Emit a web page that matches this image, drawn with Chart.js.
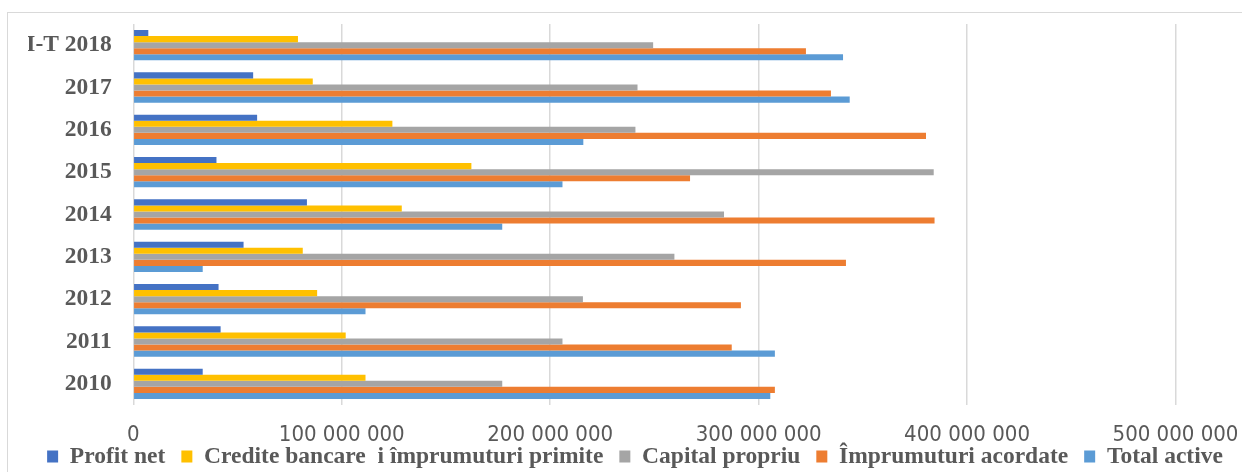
<!DOCTYPE html>
<html>
<head>
<meta charset="utf-8">
<style>
  html, body { margin: 0; padding: 0; width: 1242px; height: 472px; overflow: hidden; background: #fff; }
  #frame { position: absolute; left: 7px; top: 12px; width: 1400px; height: 600px; border: 1px solid #d9d9d9; box-sizing: border-box; }
  #wrap { position: absolute; left: 0; top: 0; width: 1242px; height: 472px; }
</style>
<script src="https://cdn.jsdelivr.net/npm/chart.js@4.4.1/dist/chart.umd.min.js"></script>
</head>
<body>
<div id="frame"></div>
<div id="wrap"><canvas id="c" width="1242" height="472"></canvas></div>
<script>
const categories = ['I-T 2018', '2017', '2016', '2015', '2014', '2013', '2012', '2011', '2010'];
const profitNet = [7200000, 57500000, 59400000, 39900000, 83300000, 52900000, 40900000, 41900000, 33300000];
const crediteBancare = [79000000, 86100000, 124300000, 162200000, 128800000, 81300000, 88200000, 101900000, 111400000];
const capitalPropriu = [249400000, 241900000, 240900000, 384000000, 283400000, 259600000, 215700000, 205900000, 177000000];
const imprumuturiAcordate = [322700000, 334700000, 380300000, 267100000, 384400000, 341900000, 291500000, 287100000, 307800000];
const totalActive = [340500000, 343700000, 215900000, 205900000, 177000000, 33300000, 111400000, 307800000, 305600000];
const seriesNames = ['Profit net', 'Credite bancare  i împrumuturi primite', 'Capital propriu', 'Împrumuturi acordate', 'Total active'];
const xTickValues = [0, 100000000, 200000000, 300000000, 400000000, 500000000];

const colors = ['#4472C4', '#FFC000', '#A5A5A5', '#ED7D31', '#5B9BD5'];
const seriesData = [profitNet, crediteBancare, capitalPropriu, imprumuturiAcordate, totalActive];

const fmt = v => String(v).replace(/\B(?=(\d{3})+(?!\d))/g, ' ');
const serif = "'Liberation Serif', 'Times New Roman', serif";
const sansNarrow = "'Liberation Sans Narrow', 'DejaVu Sans Condensed', 'Liberation Sans', sans-serif";

// place the legend row at the reference's vertical position
const legendPlace = {
  id: 'legendPlace',
  afterLayout(chart) {
    const lg = chart.legend;
    if (!lg) return;
    const lbl = lg.options.labels;
    const fontSize = lbl.font.size;
    const itemH = Math.max(fontSize, lbl.boxHeight);
    const centerY = 456.5;
    const h = lg.height;
    lg.top = centerY - lbl.padding - itemH / 2;
    lg.bottom = lg.top + h;
  }
};

new Chart(document.getElementById('c'), {
  type: 'bar',
  data: {
    labels: categories,
    datasets: seriesNames.map((name, i) => ({
      label: name,
      data: seriesData[i],
      backgroundColor: colors[i],
      borderWidth: 0,
      categoryPercentage: 0.716,
      barPercentage: 1.0
    }))
  },
  options: {
    indexAxis: 'y',
    responsive: false,
    animation: false,
    devicePixelRatio: 1,
    layout: { padding: { left: 28, right: 0, top: 24, bottom: -27.5 } },
    scales: {
      x: {
        min: 0,
        max: 500000000,
        afterBuildTicks: s => { s.ticks = xTickValues.map(v => ({ value: v })); },
        afterFit: s => { s.height = 45; s.paddingRight = 66.5; },
        grid: { color: '#d9d9d9', lineWidth: 1.5, drawTicks: false },
        border: { display: false },
        ticks: {
          padding: 17,
          color: '#595959',
          maxRotation: 0,
          font: { family: sansNarrow, size: 22 },
          callback: v => fmt(v)
        }
      },
      y: {
        afterFit: s => { s.width = 105.3; s.paddingTop = 0; s.paddingBottom = 0; },
        grid: { display: false, drawTicks: false },
        border: { display: false },
        ticks: {
          padding: 21.5,
          color: '#595959',
          font: { family: serif, size: 23.5, weight: 'bold' }
        }
      }
    },
    plugins: {
      tooltip: { enabled: false },
      legend: {
        position: 'bottom',
        labels: {
          boxWidth: 11,
          boxHeight: 12,
          padding: 16,
          color: '#595959',
          font: { family: serif, size: 23.5, weight: 'bold' }
        }
      }
    }
  },
  plugins: [legendPlace]
});
</script>
</body>
</html>
